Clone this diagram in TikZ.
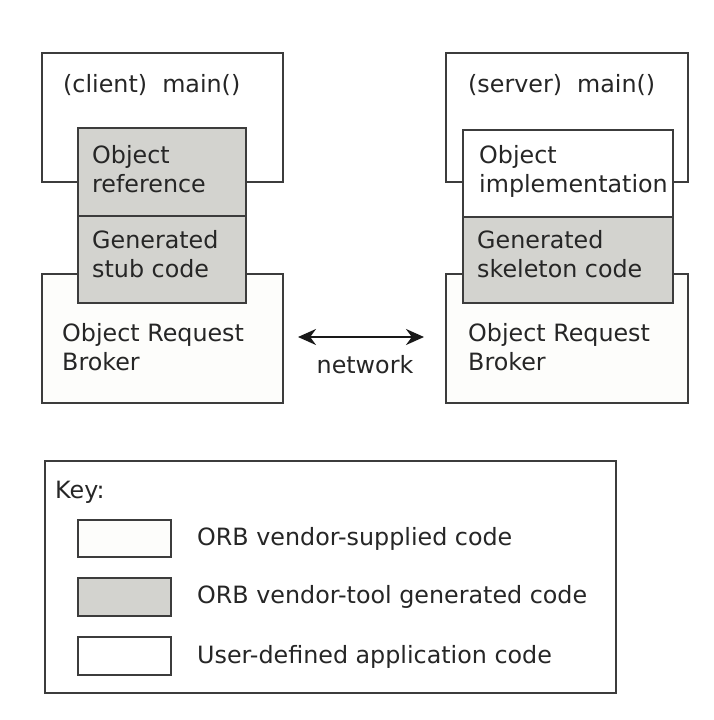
\documentclass[tikz,border=0pt]{standalone}
\usepackage{fontspec}
\setmainfont{DejaVu Sans}
\usetikzlibrary{arrows.meta}
\definecolor{gen}{HTML}{D3D3CF}
\definecolor{vend}{HTML}{FDFDFB}
\definecolor{edge}{HTML}{3C3C3C}
\tikzset{
 box/.style={draw=edge, line width=1.5pt, rectangle, inner sep=0pt, outer sep=0pt, anchor=north west},
 userbox/.style={box, fill=white},
 vendbox/.style={box, fill=vend},
 genbox/.style={box, fill=gen},
 lbl/.style={anchor=base west, inner sep=0pt, align=left, font=\fontsize{23.8}{29}\selectfont, text=black!85},
 netarrow/.style={line width=2pt, draw=black!90, {Stealth[length=18pt,width=16pt]}-{Stealth[length=18pt,width=16pt]}}
}
\begin{document}
\begin{tikzpicture}[x=1pt,y=-1pt]
\useasboundingbox[fill=white] (0,0) rectangle (714,720);
% client
\node[userbox, minimum width=241pt, minimum height=129pt] (cmain) at (42,53) {};
\node[vendbox, minimum width=241pt, minimum height=129pt] (corb) at (42,274) {};
\node[genbox, minimum width=168pt, minimum height=88pt] (cref) at (78,128) {};
\node[genbox, minimum width=168pt, minimum height=87pt] (cstub) at (78,216) {};
\node[lbl] (cmaint) at (63,92) {(client)\ \ main()};
\node[lbl] (creft) at (92,192) {Object\\reference};
\node[lbl] (cstubt) at (92,277) {Generated\\stub code};
\node[lbl] (corbt) at (62,370) {Object Request\\Broker};
% server
\node[userbox, minimum width=242pt, minimum height=129pt] (smain) at (446,53) {};
\node[vendbox, minimum width=242pt, minimum height=129pt] (sorb) at (446,274) {};
\node[userbox, minimum width=210pt, minimum height=87pt] (simpl) at (463,130) {};
\node[genbox, minimum width=210pt, minimum height=86pt] (sskel) at (463,217) {};
\node[lbl] (smaint) at (468,92) {(server)\ \ main()};
\node[lbl] (simplt) at (479,192) {Object\\implementation};
\node[lbl] (sskelt) at (477,277) {Generated\\skeleton code};
\node[lbl] (sorbt) at (468,370) {Object Request\\Broker};
% network
\coordinate (nl) at (298,337);
\coordinate (nr) at (424,337);
\draw[netarrow] (nl) -- (nr);
\node[lbl, anchor=base] (net) at (365,373) {network};
% key
\node[vendbox, fill=white, minimum width=571pt, minimum height=232pt] (key) at (45,461) {};
\node[lbl] (keyt) at (55,498) {Key:};
\node[vendbox, minimum width=93pt, minimum height=37pt] (k1) at (78,520) {};
\node[genbox, minimum width=93pt, minimum height=38pt] (k2) at (78,578) {};
\node[userbox, minimum width=93pt, minimum height=38pt] (k3) at (78,637) {};
\node[lbl] (k1t) at (197,545) {ORB vendor-supplied code};
\node[lbl] (k2t) at (197,603) {ORB vendor-tool generated code};
\node[lbl] (k3t) at (197,663) {User-defined application code};
\end{tikzpicture}
\end{document}
